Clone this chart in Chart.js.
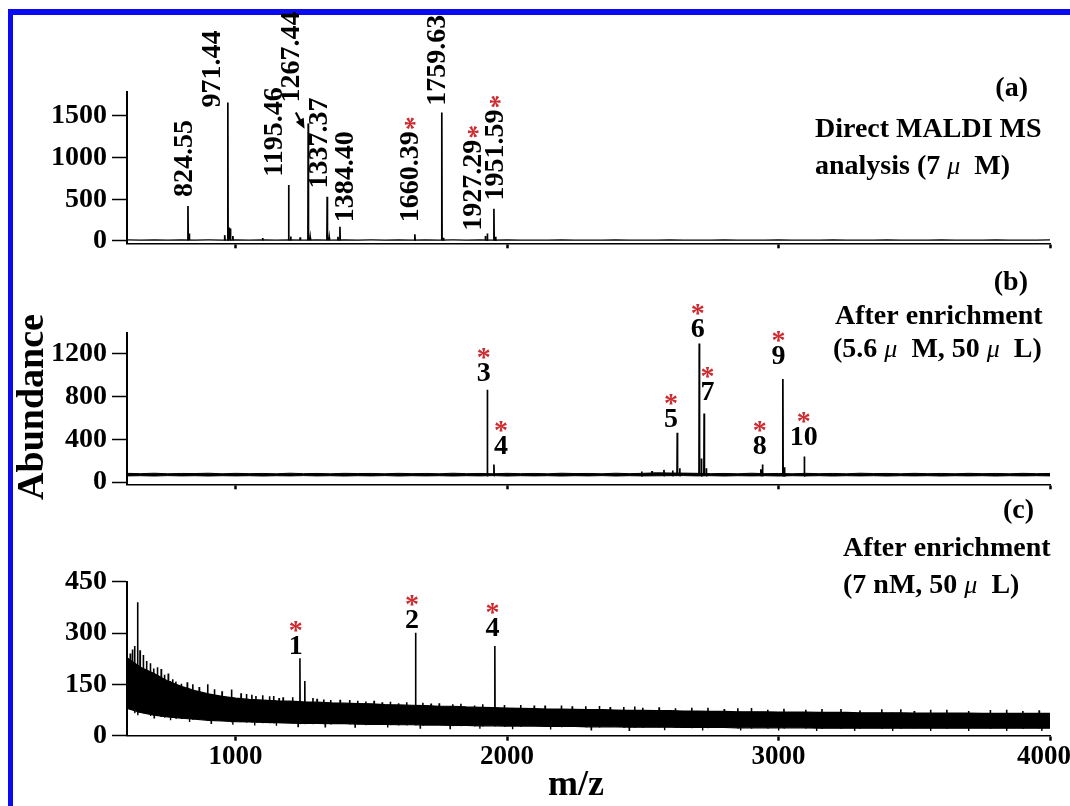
<!DOCTYPE html>
<html>
<head>
<meta charset="utf-8">
<title>MALDI MS spectra</title>
<script src="https://cdn.jsdelivr.net/npm/chart.js@4.4.1/dist/chart.umd.min.js"></script>
<style>
  html, body { margin: 0; padding: 0; background: #fff; }
  #wrap { position: relative; width: 1070px; height: 806px; overflow: hidden; background: #fff; }
  #frame { position: absolute; left: 8px; top: 9px; width: 1200px; height: 1000px;
           border-left: 5px solid #0b0bf2; border-top: 6px solid #0b0bf2; }
  canvas { position: absolute; left: 0; top: 0; }
</style>
</head>
<body>
<div id="wrap">
  <div id="frame"></div>
  <canvas id="panelA" width="1070" height="806"></canvas>
  <canvas id="panelB" width="1070" height="806"></canvas>
  <canvas id="panelC" width="1070" height="806"></canvas>
</div>
<script>
// shared m/z axis
const mzMin = 600;
const mzMax = 4000;
const mzTicks = [1000, 2000, 3000, 4000];

const sampleMz = [
  600, 650, 700, 750, 800, 850, 900, 950, 1000, 1050,
  1100, 1150, 1200, 1250, 1300, 1350, 1400, 1450, 1500, 1550,
  1600, 1650, 1700, 1750, 1800, 1850, 1900, 1950, 2000, 2050,
  2100, 2150, 2200, 2250, 2300, 2350, 2400, 2450, 2500, 2550,
  2600, 2650, 2700, 2750, 2800, 2850, 2900, 2950, 3000, 3050,
  3100, 3150, 3200, 3250, 3300, 3350, 3400, 3450, 3500, 3550,
  3600, 3650, 3700, 3750, 3800, 3850, 3900, 3950, 4000
];

// (a) direct MALDI MS analysis (7 uM)
const aTicks = [0, 500, 1000, 1500];
const aBase = [
  14, 10, 12, 9, 13, 11, 12, 10, 14, 9,
  12, 11, 13, 10, 12, 9, 14, 11, 12, 10,
  13, 9, 12, 11, 12, 10, 13, 9, 12, 10,
  11, 9, 12, 10, 11, 9, 12, 10, 11, 9,
  12, 10, 11, 9, 12, 10, 11, 9, 12, 10,
  11, 9, 12, 10, 11, 9, 12, 10, 11, 9,
  12, 10, 11, 9, 12, 10, 11, 9, 12
];
const aPeakMz = [824.55, 829, 960, 971.44, 976, 981, 990, 1100, 1195.46, 1203,
                 1238, 1267.44, 1275, 1337.37, 1345, 1377, 1384.40, 1660.39, 1759.63, 1766,
                 1920, 1927.29, 1951.59, 1958];
const aPeakVal = [420, 90, 70, 1660, 160, 150, 60, 35, 670, 55,
                  45, 1410, 40, 530, 40, 50, 170, 80, 1540, 40,
                  60, 90, 385, 50];
const aLabelText = ['824.55', '971.44', '1195.46', '1267.44', '1337.37',
                    '1384.40', '1660.39', '1759.63', '1927.29', '1951.59'];
const aMarked = [false, false, false, false, false, false, true, false, true, true];

// (b) after enrichment (5.6 uM, 50 uL)
const bTicks = [0, 400, 800, 1200];
const bUpper = [
  83, 80, 84, 79, 82, 81, 84, 79, 83, 80,
  82, 79, 84, 80, 82, 79, 83, 81, 82, 79,
  83, 80, 82, 79, 84, 80, 82, 79, 83, 80,
  82, 79, 84, 81, 82, 79, 84, 80, 83, 88,
  86, 85, 83, 80, 82, 79, 84, 80, 82, 79,
  83, 80, 82, 79, 84, 81, 82, 79, 83, 80,
  82, 79, 83, 80, 82, 79, 83, 80, 82
];
const bLower = [
  59, 61, 58, 62, 59, 61, 58, 61, 59, 61,
  58, 61, 59, 62, 59, 61, 58, 61, 59, 62,
  58, 61, 59, 61, 58, 61, 59, 62, 58, 61,
  59, 61, 58, 61, 59, 62, 58, 61, 59, 60,
  61, 62, 59, 61, 58, 61, 59, 61, 58, 61,
  59, 61, 58, 61, 59, 61, 58, 61, 59, 61,
  58, 61, 59, 61, 58, 61, 59, 61, 59
];
const bPeakMz = [1927.29, 1951.59, 2496, 2534, 2578, 2610, 2627, 2636, 2708, 2716,
                 2726, 2734, 2935, 2941, 3016, 3022, 3095];
const bPeakVal = [860, 165, 100, 105, 115, 110, 460, 130, 1290, 220,
                  640, 130, 120, 165, 960, 140, 240];
const bLabelText = ['3', '4', '5', '6', '7', '8', '9', '10'];

// (c) after enrichment (7 nM, 50 uL)
const cTicks = [0, 150, 300, 450];
const cUpper = [
  228, 200, 182, 160, 144, 132, 122, 115, 110, 106,
  104, 102, 101, 99, 98, 96, 95, 94, 93, 91,
  90, 89, 88, 86, 86, 84, 83, 82, 81, 80,
  79, 78, 78, 77, 76, 76, 75, 74, 74, 73,
  73, 72, 72, 71, 71, 70, 70, 70, 69, 69,
  69, 68, 68, 68, 67, 67, 67, 67, 66, 66,
  66, 66, 66, 65, 65, 65, 65, 65, 65
];
const cLower = [
  80, 68, 60, 55, 51, 48, 45, 43, 41, 40,
  39, 38, 37, 36, 36, 35, 35, 34, 33, 33,
  32, 32, 31, 31, 30, 30, 29, 29, 28, 28,
  28, 27, 27, 27, 26, 26, 26, 25, 25, 25,
  25, 24, 24, 24, 24, 23, 23, 23, 23, 23,
  23, 22, 22, 22, 22, 22, 22, 22, 22, 22,
  22, 22, 22, 22, 22, 22, 22, 22, 22
];
// spikes standing up out of the noise band
const cSpikeMz = [612, 620, 628, 639, 648, 660, 672, 686, 698, 712,
                  726, 738, 752, 768, 780, 800, 822, 842, 866, 897,
                  922, 950, 985, 1020, 1040, 1060, 1075, 1100, 1125, 1140,
                  1160, 1175, 1210, 1237, 1255, 1285, 1300, 1325, 1350, 1385,
                  1420, 1450, 1480, 1510, 1540, 1570, 1600, 1630, 1663, 1690,
                  1720, 1750, 1800, 1830, 1880, 1910, 1955, 1990, 2050, 2100,
                  2140, 2200, 2240, 2290, 2340, 2380, 2430, 2470, 2500, 2560,
                  2620, 2680, 2740, 2800, 2850, 2900, 2960, 3020, 3100, 3160,
                  3230, 3300, 3380, 3450, 3500, 3560, 3620, 3700, 3780, 3840,
                  3900, 3960];
const cSpikeVal = [240, 252, 262, 390, 250, 236, 218, 212, 196, 200,
                   195, 178, 182, 165, 158, 152, 156, 150, 142, 150,
                   136, 130, 135, 124, 122, 120, 116, 118, 115, 116,
                   110, 112, 112, 226, 160, 110, 108, 106, 104, 105,
                   104, 102, 100, 102, 98, 99, 95, 98, 301, 96,
                   94, 95, 92, 93, 88, 92, 262, 90, 90, 88,
                   88, 88, 86, 86, 87, 84, 84, 85, 82, 83,
                   80, 82, 82, 78, 80, 81, 76, 79, 76, 78,
                   78, 74, 77, 77, 72, 76, 76, 72, 75, 76,
                   72, 74];
// short dips hanging below the noise band
const cDipMz = [640, 700, 760, 830, 910, 990, 1070, 1150, 1230, 1330,
                1440, 1560, 1680, 1790, 1900, 2020, 2160, 2310, 2450, 2580,
                2720, 2860, 3000, 3140, 3280, 3420, 3560, 3700, 3840, 3970];
const cDipVal = [60, 52, 45, 40, 36, 32, 30, 29, 27, 26,
                 25, 24, 22, 21, 20, 19, 18, 17, 16, 16,
                 15, 15, 15, 14, 14, 14, 14, 14, 14, 14];
const cLabelText = ['1', '2', '4'];

// where the peak labels sit (in m/z and abundance units)
const aLabelMz = [812, 917, 1146, 1206, 1311, 1406, 1645, 1743, 1876, 1959];
const aLabelY = [527, 1601, 770, 1660, 628, 223, 223, 1621, 122, 486];
const aArrow = [1222, 1540, 1254, 1346];
const bLabelMz = [1914, 1978, 2604, 2702, 2738, 2931, 3000, 3093];
const bLabelY = [940, 266, 517, 1348, 768, 266, 1097, 345];
const cLabelMz = [1222, 1650, 1946];
const cLabelY = [238, 316, 292];

const SERIF = '"Liberation Serif", "Times New Roman", serif';
const B28 = 'bold 28px ' + SERIF;
const MU = 'italic 26px ' + SERIF;
const RED = '#cc2b30';
const tickFont = { family: SERIF, size: 28, weight: 'bold' };
const PAD_LEFT = 10;
const Y_AXIS_W = 117;

function series(xs, ys) {
  return xs.map((x, i) => ({ x: x, y: ys[i] }));
}

function nearest(xs, ys, x) {
  let best = 0;
  xs.forEach((v, i) => {
    if (Math.abs(v - x) < Math.abs(xs[best] - x)) best = i;
  });
  return ys[best];
}

// every peak is a thin stick standing on the baseline, with a gap after it
function sticks(mzs, vals, footVals) {
  const pts = [];
  mzs.forEach((mz, i) => {
    const foot = nearest(sampleMz, footVals, mz);
    pts.push({ x: mz - 1, y: foot }, { x: mz, y: vals[i] }, { x: mz + 1, y: foot }, { x: mz + 1.01, y: null });
  });
  return pts;
}

function line(data, extra) {
  return Object.assign({
    data: data, borderColor: '#000', borderWidth: 1.3,
    pointRadius: 0, tension: 0, fill: false
  }, extra || {});
}

function xAxis(labelH) {
  return {
    type: 'linear', min: mzMin, max: mzMax,
    afterBuildTicks: s => { s.ticks = mzTicks.map(v => ({ value: v })); },
    afterFit: s => { s.height = labelH; s.paddingLeft = 0; s.paddingRight = 0; },
    grid: { drawOnChartArea: false, tickLength: 5, tickWidth: 2.5, tickColor: '#000' },
    border: { display: true, color: '#000', width: 1.5 },
    // the m/z numbers are drawn by the notes plugin so that 4000 stays inside the page
    ticks: { display: false }
  };
}

function yAxis(min, max, ticks) {
  return {
    type: 'linear', min: min, max: max,
    afterBuildTicks: s => { s.ticks = ticks.map(v => ({ value: v })); },
    afterFit: s => { s.width = Y_AXIS_W; s.paddingTop = 0; s.paddingBottom = 0; },
    grid: { drawOnChartArea: false, tickLength: 15, tickWidth: 1.5, tickColor: '#000' },
    border: { display: true, color: '#000', width: 2 },
    ticks: { color: '#000', padding: 5, autoSkip: false, font: tickFont, callback: v => String(v) }
  };
}

// text made of pieces in different fonts, drawn on one baseline
function run(ctx, x, y, parts, alignRight) {
  ctx.textAlign = 'left';
  ctx.textBaseline = 'alphabetic';
  ctx.fillStyle = '#000';
  let w = 0;
  parts.forEach(p => { ctx.font = p[1]; w += ctx.measureText(p[0]).width; });
  let cx = alignRight ? x - w : x;
  parts.forEach(p => {
    ctx.font = p[1];
    ctx.fillText(p[0], cx, y);
    cx += ctx.measureText(p[0]).width;
  });
}

function numberLabels(ctx, sx, sy, texts, mzs, ys) {
  texts.forEach((t, i) => {
    const x = sx.getPixelForValue(mzs[i]);
    const y = sy.getPixelForValue(ys[i]);
    ctx.font = B28;
    ctx.textAlign = 'center';
    ctx.textBaseline = 'alphabetic';
    ctx.fillStyle = '#000';
    ctx.fillText(t, x, y);
    ctx.fillStyle = RED;
    ctx.fillText('*', x, y - 15);
  });
}

function mzLabels(ctx, sx) {
  ctx.font = 'bold 27px ' + SERIF;
  ctx.textAlign = 'left';
  ctx.textBaseline = 'top';
  ctx.fillStyle = '#000';
  mzTicks.forEach(v => {
    const t = String(v);
    const w = ctx.measureText(t).width;
    const x = Math.min(sx.getPixelForValue(v) - w / 2, 1071 - w);
    ctx.fillText(t, x, sx.top + 8);
  });
}

function arrow(ctx, x1, y1, x2, y2) {
  const a = Math.atan2(y2 - y1, x2 - x1);
  ctx.strokeStyle = '#000';
  ctx.lineWidth = 2.2;
  ctx.beginPath();
  ctx.moveTo(x1, y1);
  ctx.lineTo(x2 - 6 * Math.cos(a), y2 - 6 * Math.sin(a));
  ctx.stroke();
  ctx.beginPath();
  ctx.moveTo(x2, y2);
  ctx.lineTo(x2 - 11 * Math.cos(a - 0.42), y2 - 11 * Math.sin(a - 0.42));
  ctx.lineTo(x2 - 11 * Math.cos(a + 0.42), y2 - 11 * Math.sin(a + 0.42));
  ctx.closePath();
  ctx.fillStyle = '#000';
  ctx.fill();
}

function makePanel(id, cfg) {
  return new Chart(document.getElementById(id), {
    type: 'line',
    data: { datasets: cfg.datasets },
    options: {
      responsive: false,
      animation: false,
      devicePixelRatio: 1,
      events: [],
      layout: { padding: { left: PAD_LEFT, right: 20, top: cfg.top, bottom: 806 - cfg.bottom - cfg.xLabelH } },
      plugins: { legend: { display: false }, tooltip: { enabled: false } },
      scales: { x: xAxis(cfg.xLabelH), y: yAxis(cfg.yMin, cfg.yMax, cfg.yTicks) }
    },
    plugins: [{
      id: 'notes',
      afterDraw: chart => {
        const ctx = chart.ctx;
        ctx.save();
        cfg.notes(ctx, chart.scales.x, chart.scales.y);
        ctx.restore();
      }
    }]
  });
}

// (a)
makePanel('panelA', {
  top: 91.7, bottom: 243.3, yMin: -28, yMax: 1790, yTicks: aTicks, xLabelH: 0,
  datasets: [
    line(series(sampleMz, aBase), { borderWidth: 1.2 }),
    line(sticks(aPeakMz, aPeakVal, aBase), { borderWidth: 1.7 })
  ],
  notes: (ctx, sx, sy) => {
    aLabelText.forEach((t, i) => {
      ctx.save();
      ctx.translate(sx.getPixelForValue(aLabelMz[i]), sy.getPixelForValue(aLabelY[i]));
      ctx.rotate(-Math.PI / 2);
      ctx.font = B28;
      ctx.textAlign = 'left';
      ctx.textBaseline = 'middle';
      ctx.fillStyle = '#000';
      ctx.fillText(t, 0, 0);
      if (aMarked[i]) {
        const w = ctx.measureText(t).width;
        ctx.fillStyle = RED;
        ctx.fillText('*', w + 1, 5);
      }
      ctx.restore();
    });
    arrow(ctx, sx.getPixelForValue(aArrow[0]), sy.getPixelForValue(aArrow[1]),
          sx.getPixelForValue(aArrow[2]), sy.getPixelForValue(aArrow[3]));
    run(ctx, 1028, 96, [['(a)', B28]], true);
    run(ctx, 815, 137, [['Direct MALDI MS', B28]]);
    run(ctx, 815, 174, [['analysis (7 ', B28], ['\u03bc', MU], ['  M)', B28]]);
  }
});

// (b)
makePanel('panelB', {
  top: 333.3, bottom: 484.3, yMin: -19, yMax: 1386, yTicks: bTicks, xLabelH: 0,
  datasets: [
    line(series(sampleMz, bUpper), { fill: '+1', backgroundColor: '#000', borderWidth: 1 }),
    line(series(sampleMz, bLower), { borderWidth: 1 }),
    line(sticks(bPeakMz, bPeakVal, bLower), { borderWidth: 1.7 })
  ],
  notes: (ctx, sx, sy) => {
    numberLabels(ctx, sx, sy, bLabelText, bLabelMz, bLabelY);
    run(ctx, 1028, 290, [['(b)', B28]], true);
    run(ctx, 835, 324, [['After enrichment', B28]]);
    run(ctx, 833, 357, [['(5.6 ', B28], ['\u03bc', MU], ['  M, 50 ', B28], ['\u03bc', MU], ['  L)', B28]]);
    // shared y title
    ctx.save();
    ctx.translate(43, 407);
    ctx.rotate(-Math.PI / 2);
    ctx.font = 'bold 38px ' + SERIF;
    ctx.textAlign = 'center';
    ctx.textBaseline = 'alphabetic';
    ctx.fillStyle = '#000';
    ctx.fillText('Abundance', 0, 0);
    ctx.restore();
  }
});

// (c)
makePanel('panelC', {
  top: 581.7, bottom: 735.7, yMin: 0, yMax: 450, yTicks: cTicks, xLabelH: 40,
  datasets: [
    line(series(sampleMz, cUpper), { fill: '+1', backgroundColor: '#000', borderWidth: 1.2 }),
    line(series(sampleMz, cLower), { borderWidth: 1.2 }),
    line(sticks(cSpikeMz, cSpikeVal, cLower), { borderWidth: 1.6 }),
    line(sticks(cDipMz, cDipVal, cUpper), { borderWidth: 1.4 })
  ],
  notes: (ctx, sx, sy) => {
    numberLabels(ctx, sx, sy, cLabelText, cLabelMz, cLabelY);
    mzLabels(ctx, sx);
    run(ctx, 1034, 518, [['(c)', B28]], true);
    run(ctx, 843, 556, [['After enrichment', B28]]);
    run(ctx, 843, 593, [['(7 nM, 50 ', B28], ['\u03bc', MU], ['  L)', B28]]);
    ctx.font = 'bold 36px ' + SERIF;
    ctx.textAlign = 'center';
    ctx.textBaseline = 'alphabetic';
    ctx.fillStyle = '#000';
    ctx.fillText('m/z', 576, 795);
  }
});
</script>
</body>
</html>
